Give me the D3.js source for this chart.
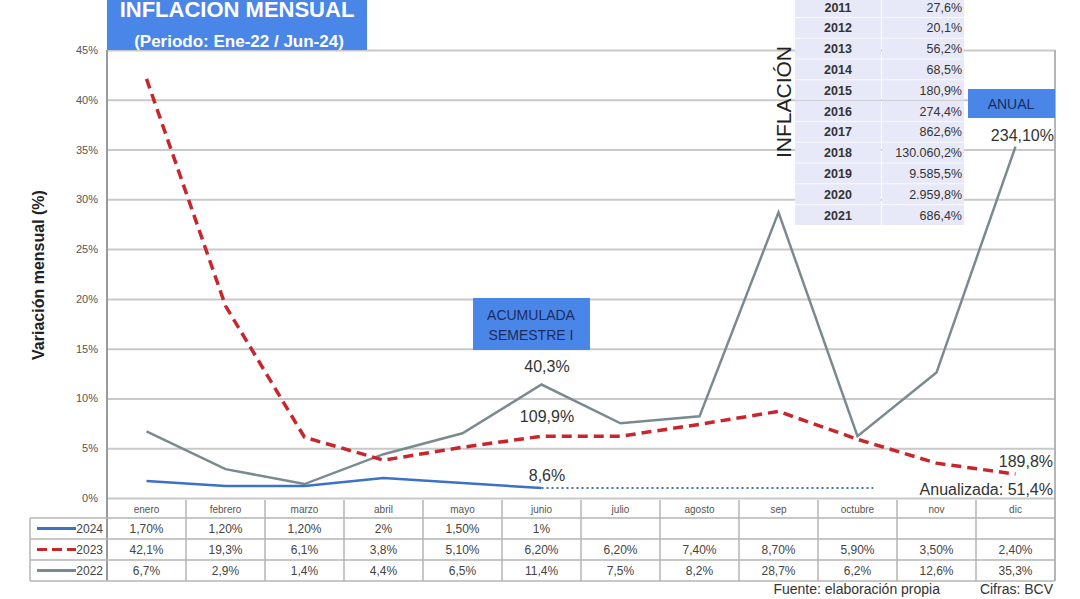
<!DOCTYPE html>
<html lang="es">
  <head>
    <meta charset="utf-8">
    <script src="https://d3js.org/d3.v7.min.js"></script>
    <title>Inflacion mensual</title>
    <style>
      body { margin: 0; background: #fff; }
      text { font-family: "Liberation Sans", Arial, sans-serif; }
      .narrow { font-family: "Liberation Sans Narrow", "Liberation Sans", Arial, sans-serif; }
    </style>
  </head>
  <body>
    <svg id="chart"></svg>
    <script>
    // datos
    var months = ["enero","febrero","marzo","abril","mayo","junio","julio","agosto","sep","octubre","nov","dic"];
    var yTicks = [0,5,10,15,20,25,30,35,40,45];

    var v2024 = [1.70,1.20,1.20,2,1.50,1];
    var v2023 = [42.1,19.3,6.1,3.8,5.10,6.20,6.20,7.40,8.70,5.90,3.50,2.40];
    var v2022 = [6.7,2.9,1.4,4.4,6.5,11.4,7.5,8.2,28.7,6.2,12.6,35.3];

    var t2024 = ["1,70%","1,20%","1,20%","2%","1,50%","1%","","","","","",""];
    var t2023 = ["42,1%","19,3%","6,1%","3,8%","5,10%","6,20%","6,20%","7,40%","8,70%","5,90%","3,50%","2,40%"];
    var t2022 = ["6,7%","2,9%","1,4%","4,4%","6,5%","11,4%","7,5%","8,2%","28,7%","6,2%","12,6%","35,3%"];

    // proyeccion punteada 2024 (indice de mes inicial y final)
    var proj2024 = [{i:5, v:1}, {i:9.2, v:1}];

    var histYears = ["2011","2012","2013","2014","2015","2016","2017","2018","2019","2020","2021"];
    var histValues = ["27,6%","20,1%","56,2%","68,5%","180,9%","274,4%","862,6%","130.060,2%","9.585,5%","2.959,8%","686,4%"];

    var drawChart = function()
    {
      var width = 1080, height = 599;
      var mLeft = 107, mRight = 1055, mTop = 50, mBottom = 498;
      var rowH = 21, headH = 18;

      var svg = d3.select("#chart").attr("width", width).attr("height", height);

      var x = d3.scaleBand().domain(months).range([mLeft, mRight]);
      var xi = d3.scaleLinear().domain([0, 11])
        .range([x(months[0]) + x.bandwidth()/2, x(months[11]) + x.bandwidth()/2]);
      var y = d3.scaleLinear().domain([0, 45]).range([mBottom, mTop]);

      // grid
      var grid = svg.append("g")
        .attr("transform", "translate(" + mLeft + ",0)")
        .call(d3.axisLeft(y).tickValues(yTicks).tickSize(-(mRight-mLeft)).tickFormat(function(d){ return d + "%"; }).tickPadding(9));
      grid.select(".domain").remove();
      grid.selectAll(".tick line").attr("stroke", "#c9c9c9").attr("stroke-width", 2);
      grid.selectAll(".tick text").attr("class", "narrow").attr("fill", "#555").style("font-size", "11px");

      var tBottom = mBottom + 2 + headH + rowH*3;

      // borde del area
      svg.append("line").attr("x1", mLeft).attr("x2", mLeft).attr("y1", mTop).attr("y2", tBottom)
        .attr("stroke", "#9a9a9a").attr("stroke-width", 2);
      svg.append("line").attr("x1", mRight).attr("x2", mRight).attr("y1", mTop).attr("y2", tBottom)
        .attr("stroke", "#b5b5b5").attr("stroke-width", 2);

      // titulo (cortado arriba como en el original)
      svg.append("rect").attr("x", mLeft).attr("y", 0).attr("width", 260).attr("height", mTop).attr("fill", "#4a86e8");
      svg.append("text").attr("x", mLeft + 130).attr("y", 17).attr("text-anchor", "middle")
        .attr("fill", "#fff").style("font-size", "22px").style("font-weight", "bold").text("INFLACION MENSUAL");
      svg.append("text").attr("x", mLeft + 132).attr("y", 47).attr("text-anchor", "middle")
        .attr("fill", "#fff").style("font-size", "17px").style("font-weight", "bold").text("(Periodo: Ene-22 / Jun-24)");

      // eje y titulo
      svg.append("text").attr("transform", "translate(44,275) rotate(-90)").attr("text-anchor", "middle")
        .attr("fill", "#222").style("font-size", "16px").style("font-weight", "bold").text("Variación mensual (%)");

      // lineas
      var line = d3.line().x(function(d, i){ return x(months[i]) + x.bandwidth()/2; }).y(function(d){ return y(d); });

      svg.append("path").datum(v2022).attr("d", line).attr("fill", "none")
        .attr("stroke", "#7b8a8f").attr("stroke-width", 2.5);
      svg.append("path").datum(v2023).attr("d", line).attr("fill", "none")
        .attr("stroke", "#c8262c").attr("stroke-width", 3.5).attr("stroke-dasharray", "10,6");
      svg.append("path").datum(v2024).attr("d", line).attr("fill", "none")
        .attr("stroke", "#3c71c8").attr("stroke-width", 2.5);
      svg.append("path").datum(proj2024)
        .attr("d", d3.line().x(function(d){ return xi(d.i); }).y(function(d){ return y(d.v); }))
        .attr("fill", "none").attr("stroke", "#3c71c8").attr("stroke-width", 2).attr("stroke-dasharray", "2,3");

      // tabla historica
      var hist = svg.append("g");
      histYears.forEach(function(yr, i)
      {
        var ry = -3 + i * 20.8;
        hist.append("rect").attr("x", 795).attr("y", ry).attr("width", 86).attr("height", 20).attr("fill", "#e7e9f8");
        hist.append("rect").attr("x", 882).attr("y", ry).attr("width", 82).attr("height", 20).attr("fill", "#e7e9f8");
        hist.append("text").attr("x", 838).attr("y", ry + 14.5).attr("text-anchor", "middle")
          .attr("fill", "#333").style("font-size", "12.5px").style("font-weight", "bold").text(yr);
        hist.append("text").attr("x", 962).attr("y", ry + 14.5).attr("text-anchor", "end")
          .attr("fill", "#333").style("font-size", "12.5px").text(histValues[i]);
      });
      svg.append("text").attr("transform", "translate(791,102) rotate(-90)").attr("text-anchor", "middle")
        .attr("fill", "#222").style("font-size", "21px").text("INFLACIÓN");

      // cajas y anotaciones
      svg.append("rect").attr("x", 473).attr("y", 298).attr("width", 117).attr("height", 52).attr("fill", "#4a86e8");
      svg.append("text").attr("x", 531).attr("y", 320).attr("text-anchor", "middle")
        .attr("fill", "#1c2b5e").style("font-size", "14px").text("ACUMULADA");
      svg.append("text").attr("x", 531).attr("y", 340).attr("text-anchor", "middle")
        .attr("fill", "#1c2b5e").style("font-size", "14px").text("SEMESTRE I");

      svg.append("rect").attr("x", 968).attr("y", 89).attr("width", 87).attr("height", 29).attr("fill", "#4a86e8");
      svg.append("text").attr("x", 1011).attr("y", 109).attr("text-anchor", "middle")
        .attr("fill", "#1c2b5e").style("font-size", "14px").text("ANUAL");

      var notes = [
        {x:547, y:372, a:"middle", t:"40,3%"},
        {x:547, y:422, a:"middle", t:"109,9%"},
        {x:547, y:481, a:"middle", t:"8,6%"},
        {x:1054, y:141, a:"end", t:"234,10%"},
        {x:1053, y:467, a:"end", t:"189,8%"},
        {x:1053, y:495, a:"end", t:"Anualizada: 51,4%"}
      ];
      notes.forEach(function(n)
      {
        svg.append("text").attr("x", n.x).attr("y", n.y).attr("text-anchor", n.a)
          .attr("fill", "#333").style("font-size", "16px").text(n.t);
      });

      // tabla de datos
      var tab = svg.append("g");
      var tLeft = 30;
      var tTop = mBottom + 2;
      var rows = [
        {name:"2024", vals:t2024, color:"#3c71c8", dash:null},
        {name:"2023", vals:t2023, color:"#c8262c", dash:"10,5"},
        {name:"2022", vals:t2022, color:"#7b8a8f", dash:null}
      ];

      months.forEach(function(m)
      {
        tab.append("text").attr("x", x(m) + x.bandwidth()/2).attr("y", tTop + 13).attr("text-anchor", "middle")
          .attr("class", "narrow").attr("fill", "#555").style("font-size", "10px").text(m);
      });
      rows.forEach(function(r, k)
      {
        var ry = tTop + headH + k * rowH;
        tab.append("line").attr("x1", 37).attr("x2", 76).attr("y1", ry + rowH/2).attr("y2", ry + rowH/2)
          .attr("stroke", r.color).attr("stroke-width", 3).attr("stroke-dasharray", r.dash);
        tab.append("text").attr("x", 103).attr("y", ry + 15).attr("text-anchor", "end")
          .attr("class", "narrow").attr("fill", "#444").style("font-size", "12px").text(r.name);
        r.vals.forEach(function(v, i)
        {
          tab.append("text").attr("x", x(months[i]) + x.bandwidth()/2).attr("y", ry + 15).attr("text-anchor", "middle")
            .attr("class", "narrow").attr("fill", "#444").style("font-size", "12px").text(v);
        });
      });

      // lineas de la tabla
      var hl = [tTop + headH, tTop + headH + rowH, tTop + headH + rowH*2, tBottom];
      hl.forEach(function(hy)
      {
        tab.append("line").attr("x1", tLeft).attr("x2", mRight).attr("y1", hy).attr("y2", hy)
          .attr("stroke", "#b5b5b5").attr("stroke-width", 1.5);
      });
      tab.append("line").attr("x1", tLeft).attr("x2", tLeft).attr("y1", tTop + headH).attr("y2", tBottom)
        .attr("stroke", "#b5b5b5").attr("stroke-width", 1.5);
      months.forEach(function(m, i)
      {
        if (i == 0) return;
        tab.append("line").attr("x1", x(m)).attr("x2", x(m)).attr("y1", tTop).attr("y2", tBottom)
          .attr("stroke", "#b5b5b5").attr("stroke-width", 1.5);
      });

      // fuente
      svg.append("text").attr("x", 940).attr("y", 594).attr("text-anchor", "end")
        .attr("fill", "#333").style("font-size", "14px").text("Fuente: elaboración propia");
      svg.append("text").attr("x", 1053).attr("y", 594).attr("text-anchor", "end")
        .attr("fill", "#333").style("font-size", "14px").text("Cifras: BCV");
    }

    drawChart();
    </script>
  </body>
</html>
